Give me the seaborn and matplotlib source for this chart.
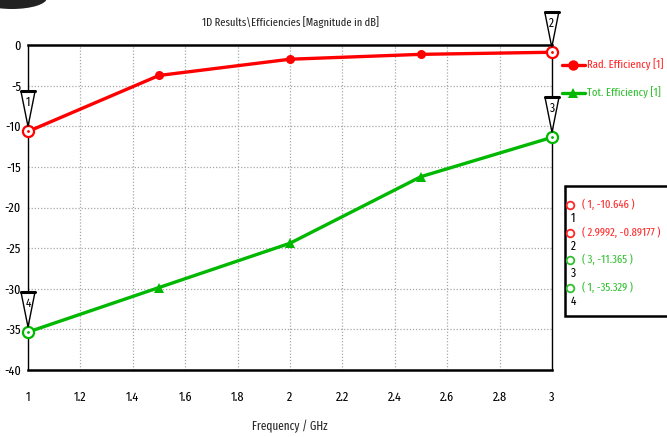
import numpy as np
import pandas as pd
import matplotlib
matplotlib.use("Agg")
import matplotlib.pyplot as plt
import seaborn as sns
from matplotlib.patches import Polygon, Rectangle, Ellipse
from matplotlib.transforms import ScaledTranslation
from matplotlib.lines import Line2D

# Simulated efficiencies vs frequency
freq_ghz = [1.0, 1.5, 2.0, 2.5, 3.0]
rad_eff_db = [-10.646, -3.75, -1.75, -1.15, -0.89177]
tot_eff_db = [-35.329, -29.85, -24.4, -16.2, -11.365]

# Marker readouts: (label, x, y, series)
marker_ids = ["1", "2", "3", "4"]
marker_x = [1.0, 2.9992, 3.0, 1.0]
marker_y = [-10.646, -0.89177, -11.365, -35.329]
marker_series = ["rad", "rad", "tot", "tot"]
marker_text = ["( 1, -10.646 )", "( 2.9992, -0.89177 )", "( 3, -11.365 )", "( 1, -35.329 )"]

x_ticks = [1, 1.2, 1.4, 1.6, 1.8, 2, 2.2, 2.4, 2.6, 2.8, 3]
x_tick_labels = ["1", "1.2", "1.4", "1.6", "1.8", "2", "2.2", "2.4", "2.6", "2.8", "3"]
y_ticks = [0, -5, -10, -15, -20, -25, -30, -35, -40]

sns.set_style("white")
plt.rcParams["font.family"] = ["Fira Sans Extra Condensed", "PT Sans Narrow", "DejaVu Sans"]
plt.rcParams["axes.unicode_minus"] = False

RED = "#ff0000"
GREEN = "#00b800"
GREEN_TXT = "#30c030"
RED_TXT = "#ff2828"
FS_TICK = 9.5
FS_TXT = 8.8
FS_LEG = 8.3

fig = plt.figure(figsize=(6.67, 4.37), dpi=100)
ax = fig.add_axes([28 / 667, 1 - 370 / 437, (552 - 28) / 667, (370 - 45) / 437])

df = pd.DataFrame({
    "freq": freq_ghz * 2,
    "eff": rad_eff_db + tot_eff_db,
    "series": ["Rad. Efficiency [1]"] * 5 + ["Tot. Efficiency [1]"] * 5,
})

sns.lineplot(data=df, x="freq", y="eff", hue="series",
             palette={"Rad. Efficiency [1]": RED, "Tot. Efficiency [1]": GREEN},
             lw=2.4, legend=False, ax=ax, zorder=3)

# interior sample markers
ax.plot(freq_ghz[1:-1], rad_eff_db[1:-1], ls="none", marker="o", ms=6.5,
        color=RED, zorder=4, markeredgewidth=0)
ax.plot(freq_ghz[1:-1], tot_eff_db[1:-1], ls="none", marker="^", ms=7,
        color=GREEN, zorder=4, markeredgewidth=0)

ax.set_xlim(1, 3)
ax.set_ylim(-40, 0)
ax.set_xticks(x_ticks)
ax.set_xticklabels(x_tick_labels)
ax.set_yticks(y_ticks)
ax.set_yticklabels([str(v) for v in y_ticks])
ax.tick_params(axis="both", labelsize=FS_TICK, colors="black", length=4, width=1,
               direction="out")
ax.tick_params(axis="x", pad=10, length=5)
ax.tick_params(axis="y", pad=2, length=3)
ax.grid(True, color="#a8a8a8", ls=(0, (1, 1.5)), lw=0.9)
for s in ["left", "bottom", "top"]:
    ax.spines[s].set_color("black")
    ax.spines[s].set_linewidth(1.8)
ax.spines["left"].set_linewidth(1.0)
ax.spines["right"].set_color("black")
ax.spines["right"].set_linewidth(1.0)
ax.set_xlabel("Frequency / GHz", fontsize=FS_TXT, labelpad=12)
ax.set_ylabel("")
ax.set_title("1D Results\\Efficiencies [Magnitude in dB]", fontsize=8.2, pad=14)

# marker flags: inverted triangles with index numbers above each readout point
px = 1 / 100.0
for mid, mx, my, ser in zip(marker_ids, marker_x, marker_y, marker_series):
    col = RED if ser == "rad" else GREEN
    ax.plot([mx], [my], ls="none", marker="o", ms=8, mfc="white", mec=col,
            mew=1.6, zorder=6, clip_on=False)
    ax.plot([mx], [my], ls="none", marker=".", ms=2, color=col, zorder=7, clip_on=False)
    tr = fig.dpi_scale_trans + ScaledTranslation(mx, my, ax.transData)
    tri = Polygon([(-7 * px, 40 * px), (7 * px, 40 * px), (0, 5 * px)], closed=True,
                  facecolor="white", edgecolor="black", lw=1.0, transform=tr,
                  clip_on=False, zorder=8)
    fig.add_artist(tri)
    bar = Line2D([-7 * px, 7 * px], [40 * px, 40 * px], color="black", lw=2.2,
                 transform=tr, zorder=9)
    fig.add_artist(bar)
    fig.text(0, 29 * px, mid, transform=tr, ha="center", va="center",
             fontsize=9, color="black", zorder=10)

# series legend to the right of the plot
leg_items = [("Rad. Efficiency [1]", RED, "o", RED_TXT, 65),
             ("Tot. Efficiency [1]", GREEN, "^", GREEN_TXT, 93)]
for label, col, mk, tcol, ypix in leg_items:
    yf = 1 - ypix / 437
    fig.add_artist(Line2D([562 / 667, 585 / 667], [yf, yf], color=col, lw=2.4,
                          transform=fig.transFigure))
    fig.add_artist(Line2D([573 / 667], [yf], color=col, marker=mk, ms=7.5,
                          mew=0, transform=fig.transFigure))
    fig.text(587 / 667, yf, label, color=tcol, fontsize=FS_LEG, ha="left", va="center")

# marker readout table
fig.add_artist(Rectangle((565 / 667, 1 - 316 / 437), 110 / 667, 130 / 437,
                         transform=fig.transFigure, facecolor="white",
                         edgecolor="black", lw=1.8, clip_on=False))
row_y = [205, 233, 260, 288]
for mid, txt, ser, ypix in zip(marker_ids, marker_text, marker_series, row_y):
    col = RED_TXT if ser == "rad" else GREEN_TXT
    yf = 1 - ypix / 437
    fig.add_artist(Line2D([570 / 667], [yf], marker="o", ms=5.5, mfc="white",
                          mec=col, mew=1.3, transform=fig.transFigure))
    fig.text(573 / 667, yf - 13 / 437, mid, fontsize=9, ha="center",
             va="center", color="black")
    fig.text(582 / 667, yf, txt, fontsize=FS_LEG, ha="left", va="center", color=col)

# dark emblem clipped at the top-left corner
fig.add_artist(Ellipse((12 / 667, 1 + 2 / 437), 70 / 667, 22 / 437,
                       transform=fig.transFigure, facecolor="#222222",
                       edgecolor="none"))

fig.savefig("out.png", dpi=100)
